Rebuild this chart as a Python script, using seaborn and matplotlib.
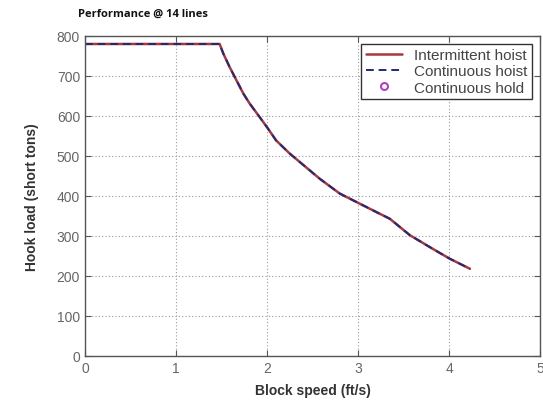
import numpy as np
import pandas as pd
import seaborn as sns
import matplotlib
matplotlib.use("Agg")
import matplotlib.pyplot as plt

# block speed (ft/s) vs hook load (short tons)
speed = [0, 1.48, 1.52, 1.59, 1.665, 1.74, 1.81, 1.92, 2.0, 2.1, 2.25, 2.36, 2.47,
         2.58, 2.8, 3.0, 3.2, 3.35, 3.57, 3.82, 4.01, 4.23]
load = [780, 780, 756, 722, 689, 656, 631, 597, 572, 539, 506, 485, 464,
        443, 406, 383, 360, 343, 302, 268, 243, 218]

series = ["Intermittent hoist", "Continuous hoist", "Continuous hold"]
xticks = [0, 1, 2, 3, 4, 5]
yticks = [0, 100, 200, 300, 400, 500, 600, 700, 800]

df = pd.DataFrame({"speed": speed, "load": load})

sns.set_style("white")
plt.rcParams["font.family"] = ["Liberation Sans", "DejaVu Sans"]

fig = plt.figure(figsize=(5.43, 4.10), dpi=100)
ax = fig.add_axes([0.1565, 0.1293, 0.838, 0.7805])

sns.lineplot(data=df, x="speed", y="load", ax=ax, color="#a8383c", lw=1.8,
             label=series[0], sort=False)
sns.lineplot(data=df, x="speed", y="load", ax=ax, color="#1f2a78", lw=1.4,
             linestyle=(0, (4, 2.5)), label=series[1], sort=False)
ax.plot([], [], "o", mfc="none", mec="#b040c0", mew=1.5, ms=5, label=series[2])

ax.set_xlim(0, 5)
ax.set_ylim(0, 800)
ax.set_xticks(xticks)
ax.set_yticks(yticks)
ax.grid(True, linestyle=(0, (1, 2)), color="#9a9a9a", lw=0.8)
for s in ax.spines.values():
    s.set_color("#555555")
    s.set_linewidth(1.0)
ax.tick_params(direction="in", length=4, colors="#555555", labelsize=10,
               labelcolor="#666666", top=True, right=True, bottom=True, left=True)

ax.set_xlabel("Block speed (ft/s)", fontsize=10, fontweight="bold", color="#333333")
ax.set_ylabel("Hook load (short tons)", fontsize=10, fontweight="bold", color="#333333")
ax.yaxis.set_label_coords(-0.1, 0.5)
ax.xaxis.set_label_coords(0.5, -0.085)

leg = ax.legend(loc="upper right", fontsize=11, frameon=True, fancybox=False,
                borderpad=0.3, labelspacing=0.15, handlelength=2.4,
                borderaxespad=0.5, framealpha=1)
leg.get_frame().set_edgecolor("#333333")
leg.get_frame().set_linewidth(1.0)
for t in leg.get_texts():
    t.set_color("#444444")

fig.text(0.1436, 0.965, "Performance @ 14 lines", fontsize=8, fontweight="bold",
         family=["Open Sans", "DejaVu Sans"], va="center", ha="left", color="#111111")

fig.savefig("out.png", dpi=100)
